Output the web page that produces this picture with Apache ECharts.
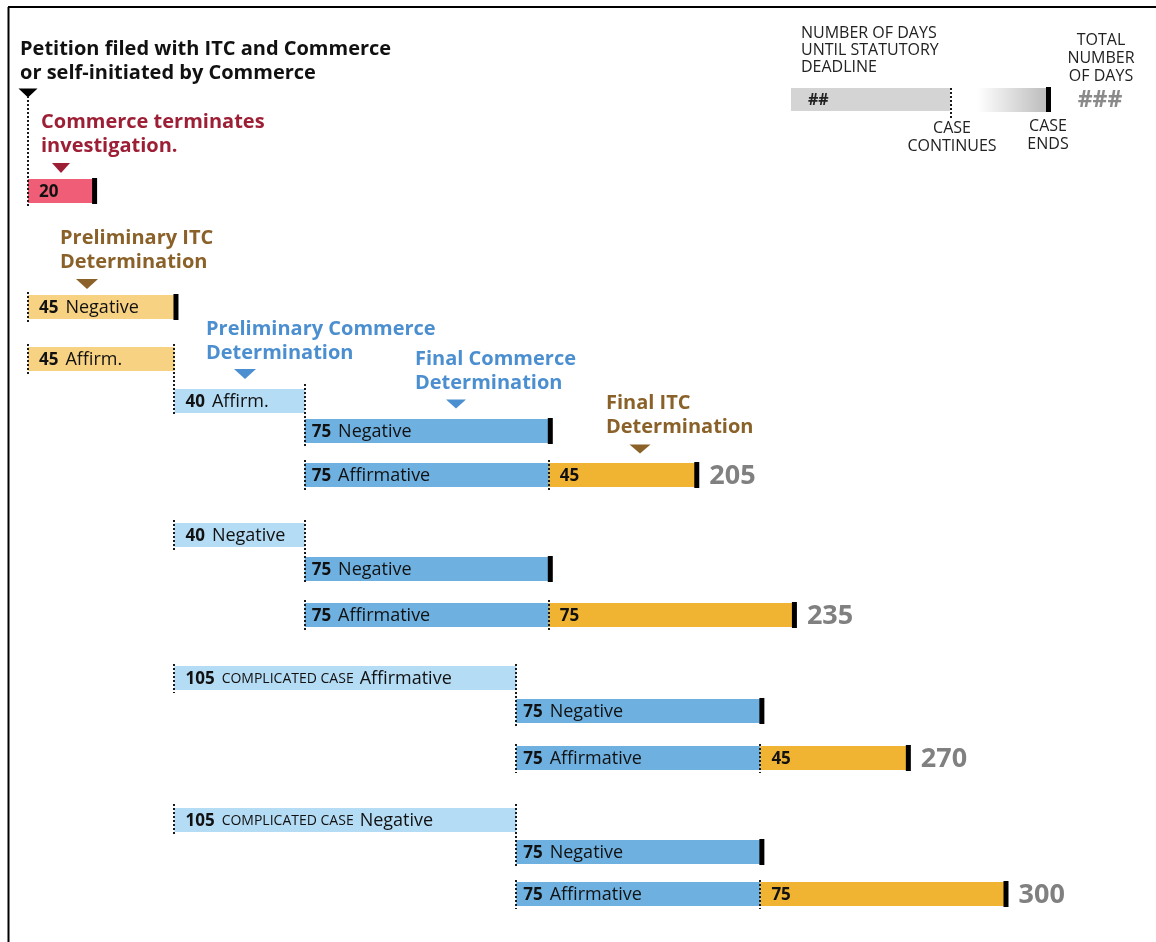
<!DOCTYPE html>
<html><head><meta charset="utf-8">
<script src="https://cdn.jsdelivr.net/npm/echarts@6/dist/echarts.min.js"></script>
<style>html,body{margin:0;padding:0;background:#fff}#c{width:1156px;height:942px}</style>
</head><body><div id="c"></div>
<script>
// ---------------- data ----------------
const segRow     = [0, 1, 2, 3, 4, 5, 5, 6, 7, 8, 8, 9, 10, 11, 11, 12, 13, 14, 14];
const segStart   = [0, 0, 0, 45, 85, 85, 160, 45, 85, 85, 160, 45, 150, 150, 225, 45, 150, 150, 225];
const segDays    = [20, 45, 45, 40, 75, 75, 45, 40, 75, 75, 75, 105, 75, 75, 45, 105, 75, 75, 75];
const segPhase   = ['term','prelimITC','prelimITC','prelimCom','finalCom','finalCom','finalITC','prelimCom','finalCom','finalCom','finalITC','prelimCom','finalCom','finalCom','finalITC','prelimCom','finalCom','finalCom','finalITC'];
const segNote    = ['','','','','','','','','','','','COMPLICATED CASE','','','','COMPLICATED CASE','','',''];
const segOutcome = ['','Negative','Affirm.','Affirm.','Negative','Affirmative','','Negative','Negative','Affirmative','','Affirmative','Negative','Affirmative','','Negative','Negative','Affirmative',''];
const segEnds    = [1, 1, 0, 0, 1, 0, 1, 0, 1, 0, 1, 0, 1, 0, 1, 0, 1, 0, 1];
const totalRows  = [5, 8, 11, 14];
const totalDays  = [205, 235, 270, 300];

// ---------------- layout / style ----------------
const rowLane = [191, 307, 359, 401, 431, 475, 535, 569, 615, 678, 711, 758, 820, 852, 894];
const BAR_H = 24;
const FONT = '"Open Sans", "Noto Sans", sans-serif';
const phaseColor = {
  term: '#EF5E76', prelimITC: '#F8D283', prelimCom: '#B5DCF5',
  finalCom: '#6EB1E1', finalITC: '#F0B332'
};
const RED = '#9D1F35', BROWN = '#8A6129', BLUE = '#4C8FD0';

const segData = segRow.map((r, i) => [segStart[i], segStart[i] + segDays[i], rowLane[r], i]);
const totalData = totalRows.map((r, k) => [totalDays[k], rowLane[r], totalDays[k]]);

function dotted(x, y1, y2) {
  const ys = Math.floor(y1 / 4) * 4;
  return { type: 'line', z2: 10, shape: { x1: Math.round(x), y1: ys, x2: Math.round(x), y2: y2 },
    style: { stroke: '#1a1a1a', lineWidth: 2, lineDash: [2, 2] } };
}

function renderSeg(params, api) {
  const s = api.value(0), e = api.value(1), y = api.value(2), i = api.value(3);
  const p0 = api.coord([s, y]), p1 = api.coord([e, y]);
  const top = p0[1] - BAR_H / 2, bot = p0[1] + BAR_H / 2;
  const ch = [];
  ch.push({ type: 'rect', z2: 0, shape: { x: p0[0], y: top, width: p1[0] - p0[0], height: BAR_H },
    style: { fill: phaseColor[segPhase[i]] } });
  let txt = '{n|' + segDays[i] + '}';
  if (segNote[i]) txt += '{s|' + segNote[i] + '}';
  if (segOutcome[i]) txt += '{w|' + segOutcome[i] + '}';
  ch.push({ type: 'text', z2: 5, x: p0[0] + (segPhase[i] === 'finalCom' ? 7 : 11), y: p0[1] + 1,
    style: { text: txt, verticalAlign: 'middle', textVerticalAlign: 'middle',
      rich: {
        n: { fontFamily: FONT, fontSize: 17, fontWeight: 'bold', fill: '#111', color: '#111', padding: [0, 7, 0, 0] },
        w: { fontFamily: FONT, fontSize: 18, fill: '#111', color: '#111' },
        s: { fontFamily: FONT, fontSize: 14, fill: '#111', color: '#111', padding: [0, 6, 0, 0] }
      } } });
  ch.push(dotted(p0[0], top - 2, bot + 3));
  if (segEnds[i]) {
    ch.push({ type: 'rect', z2: 11, shape: { x: p1[0] - 1, y: top - 1, width: 5, height: BAR_H + 2 },
      style: { fill: '#000' } });
  } else {
    let yEnd = bot + 3;
    const r = segRow[i];
    for (let j = 0; j < segRow.length; j++) {
      if (segRow[j] === r + 1 && segStart[j] === e) {
        yEnd = api.coord([e, rowLane[r + 1]])[1] + BAR_H / 2 + 2;
      }
    }
    ch.push(dotted(p1[0], top - 2, yEnd));
  }
  return { type: 'group', children: ch };
}

function renderTotal(params, api) {
  const p = api.coord([api.value(0), api.value(1)]);
  return { type: 'text', x: p[0] + 14, y: p[1] + 1,
    style: { text: String(api.value(2)), fontFamily: FONT, fontSize: 27, fontWeight: 'bold',
      fill: '#808080', verticalAlign: 'middle', textVerticalAlign: 'middle' } };
}

function tri(cx, cy, w, h, color) {
  return { type: 'polygon', shape: { points: [[cx - w / 2, cy - h / 2], [cx + w / 2, cy - h / 2], [cx, cy + h / 2]] },
    style: { fill: color } };
}
function label(x, y, text, color, size, weight, align, lh) {
  return { type: 'text', x: x, y: y, style: { text: text, fill: color, fontFamily: FONT, fontSize: size,
    fontWeight: weight || 'normal', lineHeight: lh || size + 4,
    align: align || 'left', textAlign: align || 'left', verticalAlign: 'top', textVerticalAlign: 'top' } };
}

const graphics = [
  // frame
  { type: 'line', shape: { x1: 8, y1: 7, x2: 1156, y2: 7 }, style: { stroke: '#000', lineWidth: 2 } },
  { type: 'line', shape: { x1: 8.5, y1: 7, x2: 8.5, y2: 942 }, style: { stroke: '#000', lineWidth: 2 } },
  // title
  label(20, 37, 'Petition filed with ITC and Commerce\nor self-initiated by Commerce', '#111', 20, 'bold', 'left', 24),
  tri(28, 93, 19, 9, '#000'),
  { type: 'line', shape: { x1: 28, y1: 96, x2: 28, y2: 180 }, style: { stroke: '#1a1a1a', lineWidth: 2, lineDash: [2, 2] } },
  // section labels
  label(41, 110, 'Commerce terminates\ninvestigation.', RED, 20, 'bold', 'left', 24),
  tri(61, 168, 18, 10, RED),
  label(60, 226, 'Preliminary ITC\nDetermination', BROWN, 20, 'bold', 'left', 24),
  tri(87, 284, 22, 10, BROWN),
  label(206, 317, 'Preliminary Commerce\nDetermination', BLUE, 20, 'bold', 'left', 24),
  tri(245, 374, 22, 10, BLUE),
  label(415, 347, 'Final Commerce\nDetermination', BLUE, 20, 'bold', 'left', 24),
  tri(456, 404, 20, 9, BLUE),
  label(606, 391, 'Final ITC\nDetermination', BROWN, 20, 'bold', 'left', 24),
  tri(640, 449, 21, 9, BROWN),
  // key
  label(801, 25, 'NUMBER OF DAYS\nUNTIL STATUTORY\nDEADLINE', '#222', 16, 'normal', 'left', 17),
  { type: 'rect', shape: { x: 791, y: 88, width: 159, height: 23 }, style: { fill: '#D4D4D4' } },
  label(808, 90, '##', '#222', 16, 'bold', 'left'),
  { type: 'line', shape: { x1: 951, y1: 88, x2: 951, y2: 119 }, style: { stroke: '#1a1a1a', lineWidth: 2, lineDash: [2, 2] } },
  label(952, 119, 'CASE\nCONTINUES', '#222', 16, 'normal', 'center', 18),
  { type: 'rect', shape: { x: 977, y: 88, width: 69, height: 24 },
    style: { fill: { type: 'linear', x: 0, y: 0, x2: 1, y2: 0,
      colorStops: [{ offset: 0, color: '#ffffff' }, { offset: 1, color: '#BDBDBD' }] } } },
  { type: 'rect', shape: { x: 1046, y: 87, width: 5, height: 25 }, style: { fill: '#000' } },
  label(1048, 117, 'CASE\nENDS', '#222', 16, 'normal', 'center', 18),
  label(1101, 31, 'TOTAL\nNUMBER\nOF DAYS', '#222', 16, 'normal', 'center', 18),
  label(1100, 87, '###', '#8a8a8a', 23, 'bold', 'center')
];

const chart = echarts.init(document.getElementById('c'), null, { renderer: 'canvas' });
chart.setOption({
  animation: false,
  backgroundColor: '#fff',
  grid: { left: 28, right: 151.5, top: 0, bottom: 0, containLabel: false },
  xAxis: { type: 'value', min: 0, max: 300, show: false },
  yAxis: { type: 'value', min: 0, max: 942, inverse: true, show: false },
  graphic: graphics,
  series: [
    { type: 'custom', renderItem: renderSeg, data: segData, encode: { x: [0, 1], y: 2 }, clip: false },
    { type: 'custom', renderItem: renderTotal, data: totalData, encode: { x: 0, y: 1 }, clip: false }
  ]
});
</script></body></html>
